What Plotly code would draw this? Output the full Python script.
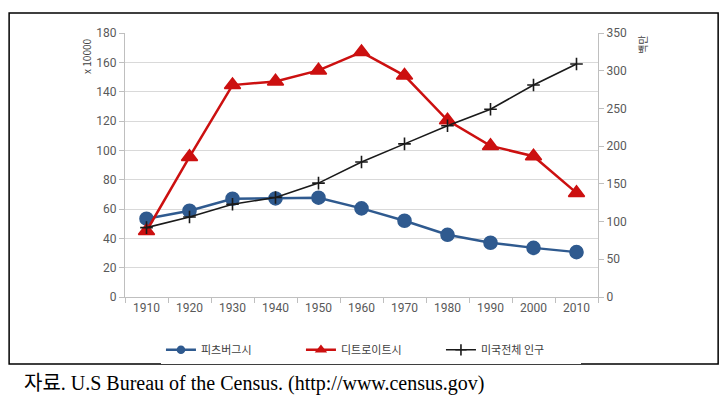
import plotly.graph_objects as go

years = ["1910", "1920", "1930", "1940", "1950", "1960", "1970", "1980", "1990", "2000", "2010"]
pittsburgh = [53.4, 58.8, 67.0, 67.2, 67.7, 60.4, 52.0, 42.4, 37.0, 33.5, 30.6]
detroit = [45.0, 95.5, 144.5, 147.0, 154.5, 167.0, 151.0, 120.5, 103.0, 96.0, 71.0]
us_total = [92, 106, 123, 132, 151, 179, 203, 227, 249, 281, 309]

left_ticks = [0, 20, 40, 60, 80, 100, 120, 140, 160, 180]
right_ticks = [0, 50, 100, 150, 200, 250, 300, 350]

BLUE = "#2f5a8f"
RED = "#cc1010"
BLACK = "#1a1a1a"
GRID = "#d9d9d9"
TICK = "#595959"

series = [
    ("피츠버그시", pittsburgh, "y", BLUE, 2.5, "circle", 13, 7),
    ("디트로이트시", detroit, "y", RED, 2.5, "triangle-up", 14, 8),
    ("미국전체 인구", us_total, "y2", BLACK, 1.6, "cross-thin", 9, 8),
]

fig = go.Figure()
for name, values, axis, color, width, symbol, size, legend_size in series:
    marker = dict(symbol=symbol, size=size, color=color, line=dict(color=color, width=1.6))
    fig.add_trace(
        go.Scatter(
            x=years, y=values, name=name, mode="lines+markers", yaxis=axis,
            line=dict(color=color, width=width), marker=marker, showlegend=False,
        )
    )
    # small legend-only entry, like the original's legend keys
    fig.add_trace(
        go.Scatter(
            x=[None], y=[None], name=name, mode="lines+markers", yaxis=axis,
            line=dict(color=color, width=width),
            marker=dict(symbol=symbol, size=legend_size, color=color,
                        line=dict(color=color, width=1.6)),
        )
    )

# outer frame and source note
fig.add_shape(
    type="rect", xref="paper", yref="paper",
    x0=-0.245, x1=1.254, y0=-0.254, y1=1.076,
    line=dict(color="black", width=1.5),
)
fig.add_annotation(
    text="x 10000", xref="paper", yref="paper", x=-0.080, y=0.91,
    xanchor="center", yanchor="middle",
    textangle=-90, showarrow=False, font=dict(size=10, color="#404040"),
)
fig.add_annotation(
    text="백만", xref="paper", yref="paper", x=1.095, y=0.955,
    xanchor="center", yanchor="middle",
    textangle=-90, showarrow=False, font=dict(size=10, color="#404040"),
)
fig.add_annotation(
    text="자료. U.S Bureau of the Census. (http://www.census.gov)",
    xref="paper", yref="paper", x=-0.218, y=-0.326,
    xanchor="left", yanchor="middle", showarrow=False,
    font=dict(size=20, color="black", family="Liberation Serif, Noto Sans CJK KR"),
)

fig.update_layout(
    width=728, height=402,
    margin=dict(l=125, r=130, t=33, b=105, autoexpand=False),
    paper_bgcolor="white", plot_bgcolor="white",
    font=dict(family="Noto Sans CJK KR, DejaVu Sans", size=11, color=TICK),
    showlegend=True,
    legend=dict(
        orientation="h", x=0.52, xanchor="center", y=-0.2, yanchor="middle",
        font=dict(size=11, color="#404040"), itemwidth=30,
        entrywidth=95, entrywidthmode="pixels",
    ),
    xaxis=dict(
        type="category", range=[-0.5, 10.5],
        showgrid=False, showline=True, linecolor="#bfbfbf", linewidth=1,
        ticks="outside", tickson="boundaries", ticklen=5, tickcolor="#bfbfbf",
        tickfont=dict(size=12, color=TICK, family="Liberation Sans Narrow, Roboto"),
    ),
    yaxis=dict(
        range=[0, 180], tickvals=left_ticks,
        showgrid=True, gridcolor=GRID, gridwidth=1,
        showline=True, linecolor="#bfbfbf", ticks="outside", ticklen=5, tickcolor="#bfbfbf",
        zeroline=False,
        tickfont=dict(size=12, color=TICK, family="Liberation Sans Narrow, Roboto"),
    ),
    yaxis2=dict(
        range=[0, 350], tickvals=right_ticks, overlaying="y", side="right",
        showgrid=False, showline=True, linecolor="#bfbfbf",
        ticks="outside", ticklen=5, tickcolor="#bfbfbf",
        zeroline=False,
        tickfont=dict(size=12, color=TICK, family="Liberation Sans Narrow, Roboto"),
    ),
)

# the page's default body margin would push the figure 8px down and right
fig.write_html(
    "out.html",
    config={"displayModeBar": False},
    post_script="document.body.style.margin = '0';",
)
